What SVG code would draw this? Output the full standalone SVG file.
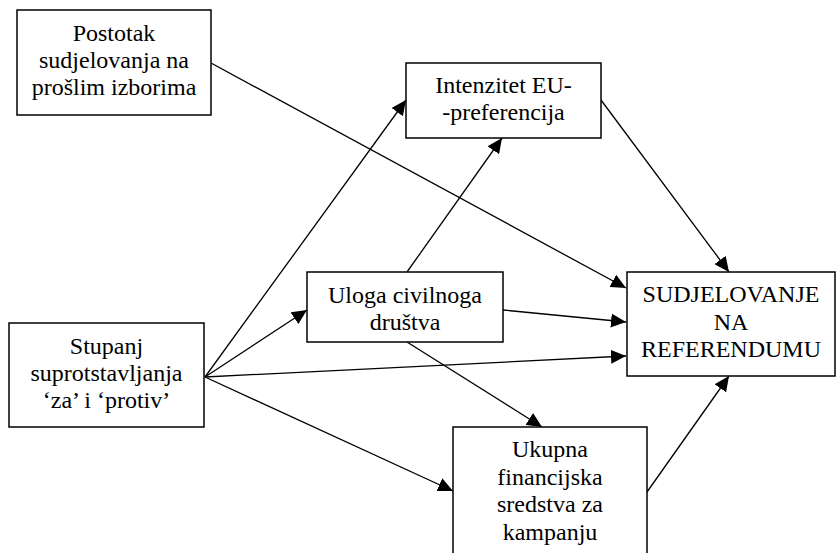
<svg xmlns="http://www.w3.org/2000/svg" width="836" height="553" viewBox="0 0 836 553">
<defs>
<style>
.box{fill:#fff;stroke:#000;stroke-width:1.5}
.t{font-size:24px;fill:#000;text-anchor:middle}
.c{stroke:#000;stroke-width:1.3;fill:none;marker-end:url(#ah)}
</style>
<marker id="ah" markerUnits="userSpaceOnUse" markerWidth="16" markerHeight="14" refX="15" refY="7" orient="auto">
<path d="M0,0 L15,7 L0,14 z" fill="#000"/>
</marker>
</defs>
<rect width="836" height="553" fill="#fff"/>
<g id="connectors">
<line class="c" x1="211" y1="63" x2="626" y2="288"/>
<line class="c" x1="205" y1="377" x2="406" y2="100"/>
<line class="c" x1="205" y1="377" x2="307" y2="310"/>
<line class="c" x1="205" y1="377" x2="626" y2="356"/>
<line class="c" x1="205" y1="377" x2="453" y2="491"/>
<line class="c" x1="407" y1="272" x2="502" y2="138"/>
<line class="c" x1="503" y1="310" x2="626" y2="322"/>
<line class="c" x1="407" y1="342" x2="542" y2="427"/>
<line class="c" x1="601" y1="100" x2="729" y2="272"/>
<line class="c" x1="647" y1="492" x2="729" y2="376"/>
</g>
<g font-family="Liberation Serif, serif">
<g id="postotak">
<rect class="box" x="17" y="10" width="194" height="105"/>
<text class="t" x="114" y="41">Postotak</text>
<text class="t" x="114" y="68">sudjelovanja na</text>
<text class="t" x="114" y="95">prošlim izborima</text>
</g>
<g id="intenzitet">
<rect class="box" x="406" y="63" width="195" height="75"/>
<text class="t" x="503.5" y="93">Intenzitet EU-</text>
<text class="t" x="503.5" y="120">-preferencija</text>
</g>
<g id="uloga">
<rect class="box" x="307" y="272" width="196" height="70"/>
<text class="t" x="405" y="303">Uloga civilnoga</text>
<text class="t" x="405" y="330">društva</text>
</g>
<g id="sudjelovanje">
<rect class="box" x="627" y="272" width="208" height="104"/>
<text class="t" x="731" y="302">SUDJELOVANJE</text>
<text class="t" x="731" y="330">NA</text>
<text class="t" x="731" y="357">REFERENDUMU</text>
</g>
<g id="stupanj">
<rect class="box" x="9" y="323" width="195" height="104"/>
<text class="t" x="106.5" y="354">Stupanj</text>
<text class="t" x="106.5" y="381">suprotstavljanja</text>
<text class="t" x="106.5" y="408">‘za’ i ‘protiv’</text>
</g>
<g id="ukupna">
<rect class="box" x="453" y="427" width="194" height="140"/>
<text class="t" x="550" y="457">Ukupna</text>
<text class="t" x="550" y="485">financijska</text>
<text class="t" x="550" y="512">sredstva za</text>
<text class="t" x="550" y="540">kampanju</text>
</g>
</g>
</svg>
